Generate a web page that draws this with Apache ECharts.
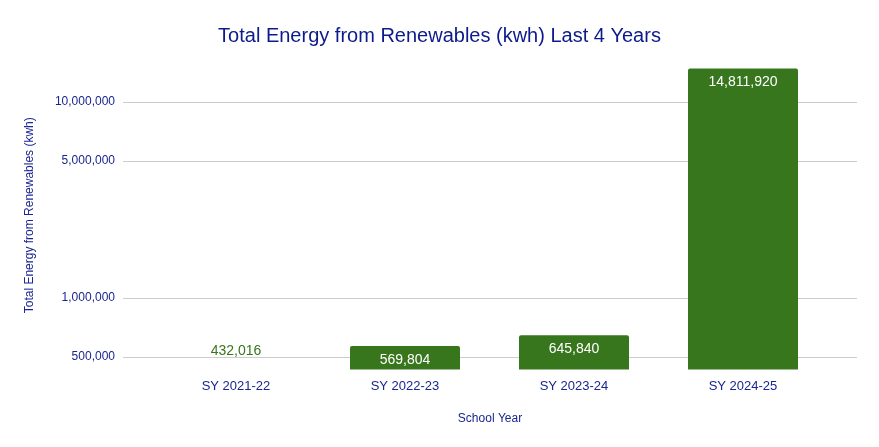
<!DOCTYPE html>
<html>
<head>
<meta charset="utf-8">
<script src="https://cdn.jsdelivr.net/npm/echarts@6/dist/echarts.min.js"></script>
<style>
html,body{margin:0;padding:0;background:#fff;}
#chart{width:879px;height:447px;}
</style>
</head>
<body>
<div id="chart"></div>
<script>
var categories = ['SY 2021-22', 'SY 2022-23', 'SY 2023-24', 'SY 2024-25'];
var energyKwh = [432016, 569804, 645840, 14811920];
var yTicks = [500000, 1000000, 5000000, 10000000];

var titleColor = '#0c1a8c';
var labelColor = '#1a2590';
var barColor = '#38761d';
var yMin = 432016;
var yMax = 16200000;
var fontFam = '"Liberation Sans", Arial, sans-serif';

function fmt(v) { return Number(v).toLocaleString('en-US'); }

var chart = echarts.init(document.getElementById('chart'));

var barData = energyKwh.map(function (v, i) {
  if (i === 0) {
    return {
      value: v,
      label: { position: 'top', color: barColor, distance: 11 }
    };
  }
  return v;
});

chart.setOption({
  animation: false,
  textStyle: { fontFamily: fontFam },
  title: {
    text: 'Total Energy from Renewables (kwh) Last 4 Years',
    left: 'center',
    top: 21,
    textStyle: { color: titleColor, fontSize: 20, fontWeight: 'normal', fontFamily: fontFam }
  },
  grid: [
    { left: 123, right: 22, top: 61, bottom: 77.5 },
    { left: 151.5, right: 51.5, top: 61, bottom: 77.5 }
  ],
  xAxis: [
    {
      gridIndex: 0, type: 'category', data: categories,
      show: true,
      axisLine: { show: false }, axisTick: { show: false }, axisLabel: { show: false },
      name: 'School Year', nameLocation: 'middle', nameGap: 43,
      nameTextStyle: { color: labelColor, fontSize: 12, fontFamily: fontFam }
    },
    {
      gridIndex: 1, type: 'category', data: categories,
      axisLine: { show: false }, axisTick: { show: false },
      axisLabel: { color: labelColor, fontSize: 13, margin: 10, fontFamily: fontFam }
    }
  ],
  yAxis: [
    {
      gridIndex: 0, type: 'log', logBase: 10, min: yMin, max: yMax,
      axisLine: { show: false }, axisTick: { show: false }, axisLabel: { show: false },
      splitLine: { show: false },
      name: 'Total Energy from Renewables (kwh)', nameLocation: 'middle', nameGap: 87,
      nameTextStyle: { color: labelColor, fontSize: 12, fontFamily: fontFam }
    },
    {
      gridIndex: 1, type: 'log', logBase: 10, min: yMin, max: yMax,
      show: false, splitLine: { show: false }
    }
  ],
  series: [
    {
      type: 'line', xAxisIndex: 0, yAxisIndex: 0, data: [], z: 1,
      silent: true,
      markLine: {
        silent: true,
        z: 1,
        symbol: ['none', 'none'],
        animation: false,
        lineStyle: { color: '#cccccc', type: 'solid', width: 1 },
        label: {
          show: true, position: 'start', distance: 8,
          color: labelColor, fontSize: 12, fontFamily: fontFam,
          formatter: function (p) { return fmt(p.value); }
        },
        emphasis: { disabled: true },
        data: yTicks.map(function (t) { return { yAxis: t }; })
      }
    },
    {
      type: 'bar', xAxisIndex: 1, yAxisIndex: 1, z: 3,
      data: barData,
      barWidth: 110,
      clip: true,
      itemStyle: { color: barColor, borderRadius: [2, 2, 0, 0] },
      label: {
        show: true, position: 'insideTop', distance: 7,
        color: '#ffffff', fontSize: 14, fontFamily: fontFam,
        formatter: function (p) { return fmt(p.value); }
      }
    }
  ]
});
</script>
</body>
</html>
